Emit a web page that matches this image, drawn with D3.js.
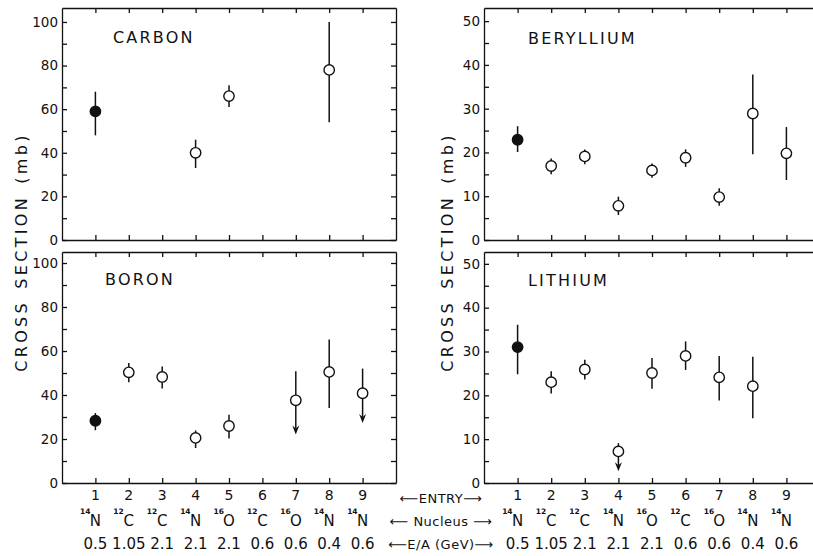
<!DOCTYPE html>
<html>
<head>
<meta charset="utf-8">
<script src="https://cdn.jsdelivr.net/npm/d3@7"></script>
<style>
  body { margin: 0; background: #fff; }
  svg { font-family: "DejaVu Sans", sans-serif; }
</style>
</head>
<body>
<div id="chart"></div>
<script>
// Entries along the x axis and the beam for each one
var entries = [1, 2, 3, 4, 5, 6, 7, 8, 9];
var nucleusMass = ["14", "12", "12", "14", "16", "12", "16", "14", "14"];
var nucleusName = ["N", "C", "C", "N", "O", "C", "O", "N", "N"];
var energies = ["0.5", "1.05", "2.1", "2.1", "2.1", "0.6", "0.6", "0.4", "0.6"];

// Carbon fragment
var carbonEntry = [1, 4, 5, 8];
var carbonVal = [59, 40, 66, 78];
var carbonLo = [48, 33, 61, 54];
var carbonHi = [68, 46, 71, 100];
var carbonLimit = [0, 0, 0, 0];

// Boron fragment (1 = upper limit)
var boronEntry = [1, 2, 3, 4, 5, 7, 8, 9];
var boronVal = [28.3, 50.3, 48.2, 20.5, 25.9, 37.6, 50.5, 40.8];
var boronLo = [24, 45.8, 42.9, 15.9, 20.2, 22, 34.1, 27.3];
var boronHi = [31.8, 54.5, 53, 23.9, 31, 50.8, 65.2, 52];
var boronLimit = [0, 0, 0, 0, 0, 1, 0, 1];

// Beryllium fragment
var berylEntry = [1, 2, 3, 4, 5, 6, 7, 8, 9];
var berylVal = [22.9, 16.9, 19.1, 7.8, 15.9, 18.8, 9.8, 28.9, 19.8];
var berylLo = [20.1, 15, 17.3, 5.7, 14.2, 16.7, 7.8, 19.6, 13.7];
var berylHi = [26, 18.6, 20.7, 9.9, 17.5, 20.7, 11.8, 37.8, 25.8];
var berylLimit = [0, 0, 0, 0, 0, 0, 0, 0, 0];

// Lithium fragment
var lithEntry = [1, 2, 3, 4, 5, 6, 7, 8];
var lithVal = [31, 23, 25.9, 7.2, 25.1, 29, 24.1, 22.1];
var lithLo = [24.8, 20.4, 23.6, 2.7, 21.5, 25.8, 18.8, 14.8];
var lithHi = [36.1, 25.5, 28.1, 9.1, 28.5, 32.3, 29, 28.8];
var lithLimit = [0, 0, 0, 1, 0, 0, 0, 0];

var W = 813, H = 556;

var svg = d3.select("#chart")
  .append("svg")
  .attr("width", W)
  .attr("height", H);

// Panel layout
var panels = [
  { title: "CARBON", entry: carbonEntry, val: carbonVal, lo: carbonLo, hi: carbonHi, limit: carbonLimit,
    left: 62, right: 396, top: 8, bottom: 240, yMax: 106.4, step: 10, labelStep: 20, tx: 113, ty: 43 },
  { title: "BERYLLIUM", entry: berylEntry, val: berylVal, lo: berylLo, hi: berylHi, limit: berylLimit,
    left: 484, right: 820, top: 8, bottom: 240, yMax: 53, step: 5, labelStep: 10, tx: 528, ty: 44 },
  { title: "BORON", entry: boronEntry, val: boronVal, lo: boronLo, hi: boronHi, limit: boronLimit,
    left: 62, right: 396, top: 252, bottom: 483, yMax: 105, step: 10, labelStep: 20, tx: 105, ty: 285 },
  { title: "LITHIUM", entry: lithEntry, val: lithVal, lo: lithLo, hi: lithHi, limit: lithLimit,
    left: 484, right: 820, top: 252, bottom: 483, yMax: 52.7, step: 5, labelStep: 10, tx: 528, ty: 286 }
];

function styleAxis(g) {
  g.selectAll("path, line").attr("stroke", "#111").attr("stroke-width", 1.3);
  g.selectAll("text").attr("font-size", 13.5).attr("fill", "#111")
    .attr("font-family", "DejaVu Sans, sans-serif");
}

panels.forEach(function(p, pi) {
  var x = d3.scaleLinear().domain([0, 10]).range([p.left, p.right]);
  var y = d3.scaleLinear().domain([0, p.yMax]).range([p.bottom, p.top]);
  var yTicks = d3.range(0, p.yMax, p.step);

  var g = svg.append("g");

  // Box made from four axes, ticks pointing inward
  g.append("g")
    .attr("transform", "translate(" + p.left + ",0)")
    .call(d3.axisLeft(y).tickValues(yTicks).tickSize(-5).tickSizeOuter(0).tickPadding(4)
      .tickFormat(function(d) { return d % p.labelStep === 0 ? d : ""; }))
    .call(styleAxis);

  g.append("g")
    .attr("transform", "translate(" + p.right + ",0)")
    .call(d3.axisRight(y).tickValues(yTicks).tickSize(-5).tickSizeOuter(0).tickFormat(""))
    .call(styleAxis);

  g.append("g")
    .attr("transform", "translate(0," + p.top + ")")
    .call(d3.axisTop(x).tickValues(entries).tickSize(-5).tickSizeOuter(0).tickFormat(""))
    .call(styleAxis);

  g.append("g")
    .attr("transform", "translate(0," + p.bottom + ")")
    .call(d3.axisBottom(x).tickValues(entries).tickSize(-5).tickSizeOuter(0).tickFormat(""))
    .call(styleAxis);

  // Panel title
  g.append("text")
    .attr("x", p.tx)
    .attr("y", p.ty)
    .attr("font-size", 16)
    .attr("letter-spacing", 2.2)
    .attr("fill", "#111")
    .text(p.title);

  var pts = p.entry.map(function(e, i) {
    return { e: e, v: p.val[i], lo: p.lo[i], hi: p.hi[i], lim: p.limit[i] };
  });

  // Error bars
  g.selectAll(".err")
    .data(pts)
    .enter()
    .append("line")
    .attr("x1", function(d) { return x(d.e); })
    .attr("x2", function(d) { return x(d.e); })
    .attr("y1", function(d) { return y(d.hi); })
    .attr("y2", function(d) { return d.lim ? y(d.lo) - 6 : y(d.lo); })
    .attr("stroke", "#111")
    .attr("stroke-width", 1.5);

  // Arrow heads for upper limits
  g.selectAll(".arrow")
    .data(pts.filter(function(d) { return d.lim; }))
    .enter()
    .append("path")
    .attr("d", function(d) {
      var cx = x(d.e), ty = y(d.lo);
      return "M" + (cx - 3.5) + "," + (ty - 9) + "L" + cx + "," + ty + "L" + (cx + 3.5) + "," + (ty - 9) + "L" + cx + "," + (ty - 6) + "Z";
    })
    .attr("fill", "#111");

  // Points: entry 1 is filled
  g.selectAll(".pt")
    .data(pts)
    .enter()
    .append("circle")
    .attr("cx", function(d) { return x(d.e); })
    .attr("cy", function(d) { return y(d.v); })
    .attr("r", 5.2)
    .attr("fill", function(d) { return d.e === 1 ? "#111" : "#fff"; })
    .attr("stroke", "#111")
    .attr("stroke-width", 1.4);

  // Labels under the bottom panels
  if (pi >= 2) {
    var rows = svg.append("g").attr("fill", "#111");
    rows.selectAll(".entryLab")
      .data(entries)
      .enter()
      .append("text")
      .attr("x", function(d) { return x(d); })
      .attr("y", 500)
      .attr("text-anchor", "middle")
      .attr("font-size", 14)
      .text(function(d) { return d; });

    rows.selectAll(".nuc")
      .data(entries)
      .enter()
      .append("text")
      .attr("x", function(d) { return x(d); })
      .attr("y", 526)
      .attr("text-anchor", "middle")
      .attr("font-size", 15)
      .text(function(d, i) { return nucleusName[i]; });

    rows.selectAll(".mass")
      .data(entries)
      .enter()
      .append("text")
      .attr("x", function(d) { return x(d) - 5; })
      .attr("y", 514)
      .attr("text-anchor", "end")
      .attr("font-size", 7.5)
      .attr("font-weight", "bold")
      .text(function(d, i) { return nucleusMass[i]; });

    rows.selectAll(".en")
      .data(entries)
      .enter()
      .append("text")
      .attr("x", function(d) { return x(d); })
      .attr("y", 549)
      .attr("text-anchor", "middle")
      .attr("font-size", 15)
      .text(function(d, i) { return energies[i]; });
  }
});

// Row captions between the panels
var captions = [
  { t: "\u27F5ENTRY\u27F6", y: 503 },
  { t: "\u27F5 Nucleus \u27F6", y: 526 },
  { t: "\u27F5E/A (GeV)\u27F6", y: 549 }
];
svg.selectAll(".cap")
  .data(captions)
  .enter()
  .append("text")
  .attr("x", 441)
  .attr("y", function(d) { return d.y; })
  .attr("text-anchor", "middle")
  .attr("font-size", 13)
  .attr("fill", "#111")
  .attr("letter-spacing", 0.5)
  .text(function(d) { return d.t; });

// Y axis titles
[27, 453].forEach(function(xp) {
  svg.append("text")
    .attr("transform", "translate(" + xp + ",252) rotate(-90)")
    .attr("text-anchor", "middle")
    .attr("font-size", 16)
    .attr("letter-spacing", 3.3)
    .attr("word-spacing", 3)
    .attr("fill", "#111")
    .text("CROSS SECTION (mb)");
});
</script>
</body>
</html>
